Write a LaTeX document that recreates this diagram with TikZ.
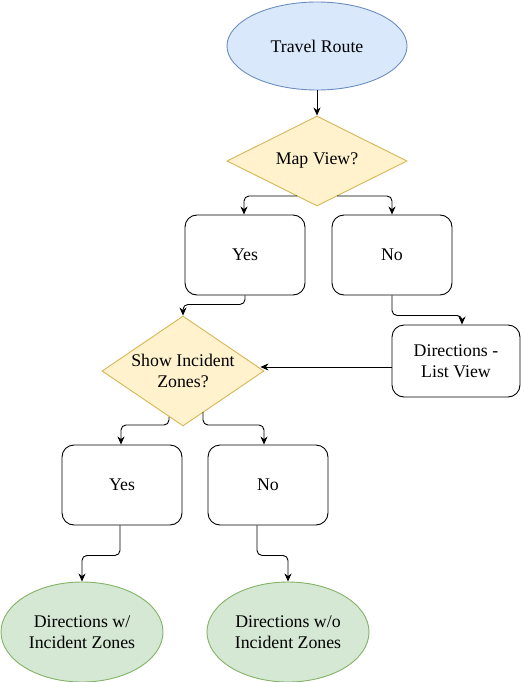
\documentclass[tikz,border=0pt]{standalone}
\usepackage{fontspec}
\setmainfont{Liberation Serif}
\newfontfamily\labelfont{Liberation Serif}
\usetikzlibrary{shapes.geometric,arrows.meta,calc}

\definecolor{bluefill}{HTML}{DAE8FC}
\definecolor{bluedraw}{HTML}{6C8EBF}
\definecolor{yellowfill}{HTML}{FFF2CC}
\definecolor{yellowdraw}{HTML}{D6B656}
\definecolor{greenfill}{HTML}{D5E8D4}
\definecolor{greendraw}{HTML}{82B366}

\tikzset{
  terminal/.style={ellipse, draw=bluedraw, fill=bluefill, line width=0.9pt,
    minimum width=180pt, minimum height=88pt, inner sep=0pt, align=center},
  outcome/.style={ellipse, draw=greendraw, fill=greenfill, line width=0.9pt,
    minimum width=162pt, minimum height=100pt, inner sep=0pt, align=center},
  decision/.style={diamond, draw=yellowdraw, fill=yellowfill, line width=0.9pt,
    inner sep=0pt},
  dectext/.style={align=center, inner sep=0pt},
  choice/.style={rectangle, rounded corners=12pt, draw=black, line width=0.9pt,
    minimum width=120pt, minimum height=80pt, inner sep=0pt, align=center},
  edge/.style={draw=black, line width=0.9pt, rounded corners=5pt,
    -{Stealth[length=8pt,width=7pt,inset=2.5pt]}}
}

\begin{document}
\begin{tikzpicture}[x=1pt, y=-1pt, font=\labelfont\fontsize{17.8}{21}\selectfont]
  \useasboundingbox (0,0) rectangle (523,682);

  % start
  \node[terminal] (route) at (317,46) {Travel Route};

  % first decision and its branches
  \node[decision, minimum width=180pt, minimum height=90pt,
        label={[dectext]center:Map View?}] (mapview) at (317,161) {};
  \node[choice] (yesmap) at (245,255) {Yes};
  \node[choice] (nomap) at (392,255) {No};
  \node[choice, minimum width=128pt, minimum height=72pt] (listview) at (456,361) {Directions -\\List View};

  % second decision and its branches
  \node[decision, minimum width=162pt, minimum height=110pt,
        label={[dectext]center:Show Incident\\Zones?}] (zones) at (183,371) {};
  \node[choice] (yeszones) at (122,485) {Yes};
  \node[choice] (nozones) at (268,485) {No};

  % results
  \node[outcome] (withzones) at (82,632) {Directions w/\\Incident Zones};
  \node[outcome] (withoutzones) at (288,632) {Directions w/o\\Incident Zones};

  % connectors
  \draw[edge] (route) -- (mapview);
  \draw[edge] ($(mapview.center)+(-20,35)$) -| ([xshift=-1pt]yesmap.north);
  \draw[edge] ($(mapview.center)+(20,35)$) -| (nomap.north);
  \draw[edge] (yesmap.south) -- ++(0,9) -| (zones.north);
  \draw[edge] (nomap.south) -- ++(0,20) -| ([xshift=6pt]listview.north);
  \draw[edge] ([yshift=-6pt]listview.west) -- ([yshift=-6pt,xshift=-4pt]listview.west -| zones.east);
  \draw[edge] ($(zones.center)+(-14,46)$) -- ($(zones.center)+(-14,54)$) -| ([xshift=-1pt]yeszones.north);
  \draw[edge] ($(zones.center)+(20,41)$) -- ($(zones.center)+(20,54)$) -| ([xshift=-4pt]nozones.north);
  \draw[edge] ([xshift=-2pt]yeszones.south) -- ++(0,30) -| (withzones.north);
  \draw[edge] ([xshift=-11pt]nozones.south) -- ++(0,30) -| (withoutzones.north);
\end{tikzpicture}
\end{document}
